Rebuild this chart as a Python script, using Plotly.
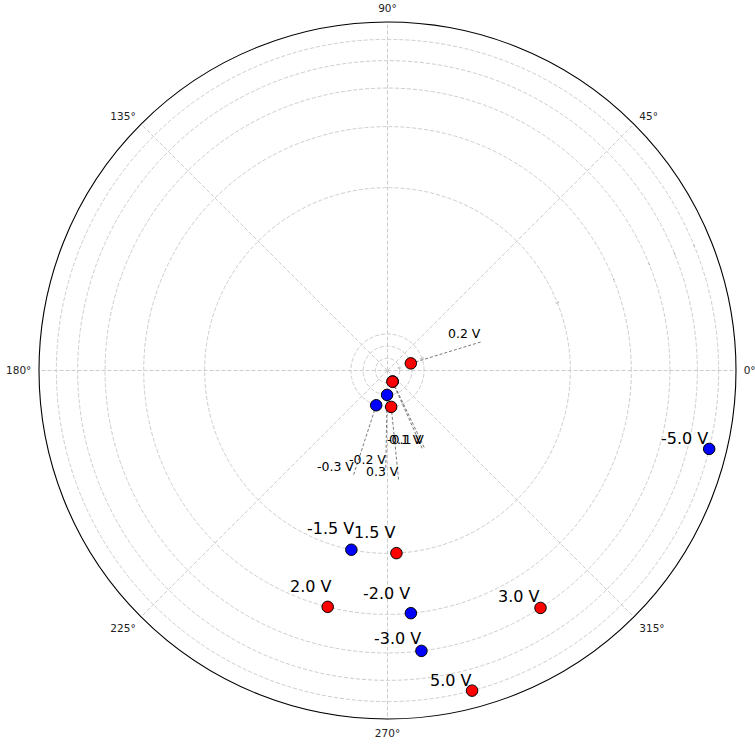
import numpy as np
import plotly.graph_objects as go

# Bias voltage of each measurement and its phase angle (degrees)
voltages = [-5.0, -3.0, -2.0, -1.5, -0.3, -0.2, -0.1, 0.1, 0.2, 0.3, 1.5, 2.0, 3.0, 5.0]
phase_deg = [346.3, 276.9, 275.5, 258.6, 252.0, 269.0, 295.5, 294.0, 17.0, 275.8, 272.8, 255.8, 302.8, 284.8]

# Radial grid circles and outer limit (volts), angular ticks (degrees)
radial_ticks = [0.1, 0.2, 0.3, 1.5, 2.0, 3.0, 4.0, 5.0]
r_max = 6.0
angle_ticks = [0, 45, 90, 135, 180, 225, 270, 315]

# Symmetric-log radial scale: linear below LINTHRESH, logarithmic above
LINTHRESH = 2.0
LINSCALE = 1.0
BASE = 10.0


def symlog(v):
    v = np.abs(np.asarray(v, dtype=float))
    adj = LINSCALE / (1.0 - 1.0 / BASE)
    safe = np.maximum(v, 1e-12)
    return np.where(v <= LINTHRESH, v * adj,
                    LINTHRESH * (adj + np.log(safe / LINTHRESH) / np.log(BASE)))


FONT = "DejaVu Sans"
GRID = "#cdcdcd"
LEADER_EXTRA = 0.6   # leader-line length for small-voltage labels (volts)

# pixel shifts (x of right edge, y of centre) of the large-voltage labels
big_label_shift = {
    -5.0: (0, 10), -3.0: (1, 12), -2.0: (0, 20), -1.5: (4, 21),
    1.5: (1, 21), 2.0: (5, 20), 3.0: (0, 11), 5.0: (1, 10),
}

v = np.array(voltages)
th = np.array(phase_deg)
r_plot = symlog(np.abs(v))
r_top = float(symlog(r_max))

fig = go.Figure()

# dashed leader lines for the small-voltage labels
small = np.abs(v) < 1.0
lr, lt = [], []
for vi, ti in zip(v[small], th[small]):
    lr += [float(symlog(abs(vi))), float(symlog(abs(vi) + LEADER_EXTRA)), None]
    lt += [ti, ti, None]
fig.add_trace(go.Scatterpolar(
    r=lr, theta=lt, mode="lines",
    line=dict(color="#6a6a6a", width=0.9, dash="3px,2px"),
    hoverinfo="skip", showlegend=False))

# negative bias in blue, positive bias in red
neg = v < 0
for mask, colour in ((neg, "#0000ff"), (~neg, "#ff0000")):
    fig.add_trace(go.Scatterpolar(
        r=r_plot[mask], theta=th[mask], mode="markers",
        marker=dict(size=11.5, color=colour, line=dict(color="black", width=1)),
        showlegend=False))

# invisible cartesian layer sharing the polar frame, used for the text labels
fig.add_trace(go.Scatter(x=[], y=[], xaxis="x", yaxis="y", showlegend=False,
                         hoverinfo="skip"))

annotations = []
for vi, ti, ri in zip(v, th, r_plot):
    rad = np.radians(ti)
    label = f"{vi:.1f} V"
    if abs(vi) < 1.0:
        rl = float(symlog(abs(vi) + LEADER_EXTRA))
        annotations.append(dict(
            x=rl * np.cos(rad), y=rl * np.sin(rad), xref="x", yref="y",
            text=label, showarrow=False, xanchor="right", yanchor="bottom",
            xshift=1, borderpad=0,
            font=dict(family=FONT, size=12.5, color="black")))
    else:
        dx, dy = big_label_shift[float(vi)]
        annotations.append(dict(
            x=ri * np.cos(rad), y=ri * np.sin(rad), xref="x", yref="y",
            text=label, showarrow=False, xanchor="right", yanchor="middle",
            xshift=dx, yshift=dy, borderpad=0,
            font=dict(family=FONT, size=16, color="black")))

fig.update_layout(
    width=755, height=747,
    margin=dict(l=39, r=19, t=22, b=28),
    paper_bgcolor="white", plot_bgcolor="rgba(0,0,0,0)",
    showlegend=False,
    font=dict(family=FONT),
    annotations=annotations,
    xaxis=dict(domain=[0, 1], range=[-r_top, r_top], visible=False, fixedrange=True),
    yaxis=dict(domain=[0, 1], range=[-r_top, r_top], visible=False, fixedrange=True),
    polar=dict(
        domain=dict(x=[0, 1], y=[0, 1]),
        bgcolor="white",
        radialaxis=dict(
            range=[0, r_top],
            tickmode="array",
            tickvals=list(symlog(radial_ticks)),
            ticktext=[f"{t:g}" for t in radial_ticks],
            angle=22.5,
            showline=False, ticks="",
            tickfont=dict(family=FONT, size=2.5, color="#666"),
            showgrid=True, gridcolor=GRID, gridwidth=0.8, griddash="4px,2px",
            layer="above traces",
        ),
        angularaxis=dict(
            rotation=0, direction="counterclockwise",
            tickmode="array", tickvals=angle_ticks,
            ticktext=[f"{a}°" for a in angle_ticks],
            showline=True, linecolor="black", linewidth=1.1,
            ticks="outside", ticklen=5, tickcolor="rgba(0,0,0,0)",
            showgrid=True, gridcolor=GRID, gridwidth=0.8, griddash="4px,2px",
            tickfont=dict(family=FONT, size=10.5, color="#222"),
            layer="above traces",
        ),
    ),
)

fig.write_html("out.html")
